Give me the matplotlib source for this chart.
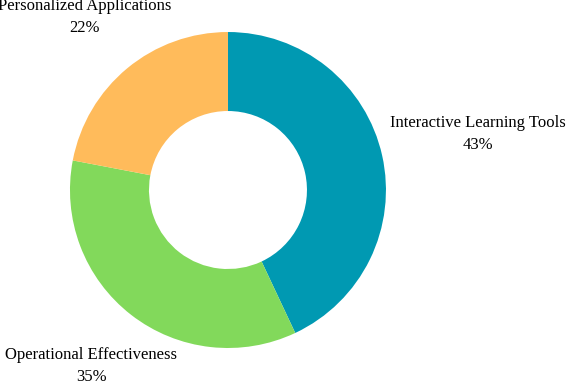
import numpy as np
import matplotlib.pyplot as plt

labels = ['Interactive Learning Tools', 'Operational Effectiveness', 'Personalized Applications']
shares = [43, 35, 22]
colors = ['#0099B2', '#82D95B', '#FFBB5B']
label_dist = [1.62, 1.41, 1.42]

plt.rcParams['font.family'] = ['Liberation Serif', 'DejaVu Serif']

fig = plt.figure(figsize=(5.68, 3.82), dpi=100)
ax = fig.add_axes([0.1232, 0.089, 0.5563, 0.8272])
wedges, _ = ax.pie(shares, colors=colors, startangle=90, counterclock=False,
                   radius=1, wedgeprops=dict(width=0.5, linewidth=0))

# labels outside the ring, centred on the mid angle of each slice
for w, lab, val, d in zip(wedges, labels, shares, label_dist):
    ang = np.deg2rad((w.theta1 + w.theta2) / 2)
    ax.text(d * np.cos(ang), d * np.sin(ang), f'{lab}\n{val}%',
            ha='center', va='center', fontsize=12, linespacing=1.45,
            clip_on=False)

ax.set_xlim(-1, 1)
ax.set_ylim(-1, 1)
ax.set_aspect('equal')
ax.axis('off')

fig.savefig('out.png', dpi=100)
